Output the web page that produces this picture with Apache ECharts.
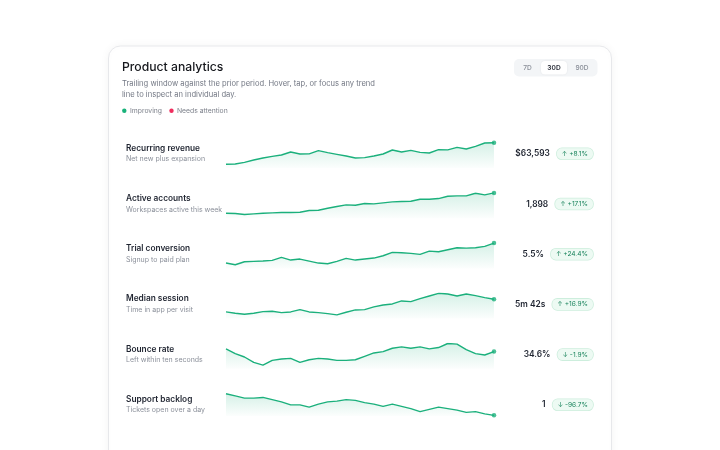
<!DOCTYPE html>
<html>
<head>
<meta charset="utf-8">
<title>Product analytics</title>
<script src="https://cdn.jsdelivr.net/npm/echarts@6/dist/echarts.min.js"></script>
<style>
  html, body { margin: 0; padding: 0; background: #ffffff; }
  #chart { width: 720px; height: 450px; }
</style>
</head>
<body>
<div id="chart"></div>
<script>
// 30 day trailing window
const days = ['Jun 1', 'Jun 2', 'Jun 3', 'Jun 4', 'Jun 5', 'Jun 6', 'Jun 7', 'Jun 8', 'Jun 9', 'Jun 10',
  'Jun 11', 'Jun 12', 'Jun 13', 'Jun 14', 'Jun 15', 'Jun 16', 'Jun 17', 'Jun 18', 'Jun 19', 'Jun 20',
  'Jun 21', 'Jun 22', 'Jun 23', 'Jun 24', 'Jun 25', 'Jun 26', 'Jun 27', 'Jun 28', 'Jun 29', 'Jun 30'];

const revenue = [57100, 57200, 57700, 58400, 59000, 59500, 59900, 60800, 60200, 60250,
  61200, 60600, 60100, 59600, 59000, 59100, 59600, 60200, 61400, 60800,
  61300, 60700, 60500, 61500, 61450, 62200, 61700, 62500, 63500, 63593];
const accounts = [1654, 1650, 1638, 1646, 1654, 1658, 1662, 1663, 1666, 1686,
  1690, 1714, 1734, 1754, 1750, 1770, 1766, 1778, 1790, 1794,
  1798, 1822, 1822, 1830, 1858, 1862, 1862, 1894, 1874, 1898];
const trial = [4.30, 4.20, 4.38, 4.40, 4.42, 4.46, 4.64, 4.48, 4.54, 4.42,
  4.30, 4.26, 4.40, 4.58, 4.48, 4.54, 4.60, 4.74, 4.94, 4.92,
  4.88, 4.82, 5.02, 4.98, 5.10, 5.22, 5.20, 5.22, 5.30, 5.50];
const session = [304, 300, 297, 300, 305, 306, 302, 304, 311, 304,
  302, 299, 295, 303, 310, 311, 319, 325, 328, 337,
  335, 344, 352, 360, 358, 352, 358, 353, 347, 342];
const bounce = [35.0, 34.3, 33.8, 33.0, 32.6, 33.3, 33.5, 33.6, 33.0, 33.4,
  33.6, 33.5, 33.3, 33.3, 33.4, 33.9, 34.4, 34.6, 35.1, 35.3,
  35.1, 35.3, 35.0, 35.2, 35.8, 35.7, 34.9, 34.3, 34.1, 34.6];
const backlog = [30, 27, 24, 24, 25, 22, 19, 15, 15, 12,
  16, 19, 20, 22, 21, 18, 16, 13, 16, 13,
  10, 6, 9, 12, 10, 8, 5, 6, 3, 1];

const metricNames = ['Recurring revenue', 'Active accounts', 'Trial conversion', 'Median session', 'Bounce rate', 'Support backlog'];
const metricNotes = ['Net new plus expansion', 'Workspaces active this week', 'Signup to paid plan', 'Time in app per visit', 'Left within ten seconds', 'Tickets open over a day'];
const metricValues = ['$63,593', '1,898', '5.5%', '5m 42s', '34.6%', '1'];
const metricChanges = ['+8.1%', '+17.1%', '+24.4%', '+16.9%', '-1.9%', '-96.7%'];
const series = [revenue, accounts, trial, session, bounce, backlog];
const ranges = ['7D', '30D', '90D'];

const font = 'Inter, "Noto Sans", sans-serif';
const green = '#1bb07c';
const rowStep = 50.2;

let oChart = echarts.init(document.getElementById('chart'));

let grids = [], xAxes = [], yAxes = [], lines = [], texts = [];
for (let i = 0; i < series.length; i++) {
  let data = series[i];
  grids.push({ left: 226, width: 268, top: 142.7 + rowStep * i, height: 25.3 });
  xAxes.push({ type: 'category', gridIndex: i, data: days, boundaryGap: false, show: false });
  yAxes.push({
    type: 'value', gridIndex: i, show: false,
    min: v => v.min - (v.max - v.min) * 0.17,
    max: 'dataMax'
  });
  lines.push({
    type: 'line', xAxisIndex: i, yAxisIndex: i, data: data,
    symbol: 'none', silent: true,
    lineStyle: { color: green, width: 1.4 },
    areaStyle: {
      color: new echarts.graphic.LinearGradient(0, 0, 0, 1, [
        { offset: 0, color: 'rgba(27,176,124,0.26)' },
        { offset: 1, color: 'rgba(27,176,124,0.02)' }
      ])
    }
  });
  lines.push({
    type: 'scatter', xAxisIndex: i, yAxisIndex: i, silent: true,
    data: [[days.length - 1, data[data.length - 1]]],
    symbolSize: 4.5, itemStyle: { color: green }
  });

  let cy = 153.8 + rowStep * i;
  let down = metricChanges[i].charAt(0) === '-';
  texts.push({
    type: 'text', style: {
      x: 126, y: cy - 5.5, text: metricNames[i], fill: '#1f2430',
      font: '600 8.3px ' + font, verticalAlign: 'middle'
    }
  });
  texts.push({
    type: 'text', style: {
      x: 126, y: cy + 5.5, text: metricNotes[i], fill: '#8b909a',
      font: '400 7px ' + font, verticalAlign: 'middle'
    }
  });
  texts.push({
    type: 'text', style: {
      x: 593, y: cy, align: 'right', verticalAlign: 'middle',
      text: '{v|' + metricValues[i] + '}{gap|}{b|' + (down ? '\u2193 ' : '\u2191 ') + metricChanges[i] + '}',
      rich: {
        v: { fontSize: 8.4, fontWeight: 600, fontFamily: font, fill: '#1f2430' },
        gap: { width: 7 },
        b: {
          fontSize: 6.6, fontFamily: font, fill: '#17825a',
          backgroundColor: '#edfaf3', borderColor: '#cdeedd', borderWidth: 0.8,
          borderRadius: 5, padding: [2, 5, 2, 5]
        }
      }
    }
  });
}

let graphics = [
  {
    type: 'rect', z: -10,
    shape: { x: 108.5, y: 46, width: 503, height: 440, r: 12 },
    style: { fill: '#ffffff', stroke: '#e7e8eb', lineWidth: 1, shadowBlur: 10, shadowColor: 'rgba(17,24,39,0.05)' }
  },
  {
    type: 'text', style: {
      x: 122, y: 67, text: 'Product analytics', fill: '#15171c',
      font: '500 12.2px ' + font, verticalAlign: 'middle'
    }
  },
  {
    type: 'text', style: {
      x: 122, y: 83.5, text: 'Trailing window against the prior period. Hover, tap, or focus any trend',
      fill: '#737884', font: '400 7.6px ' + font, verticalAlign: 'middle'
    }
  },
  {
    type: 'text', style: {
      x: 122, y: 94.5, text: 'line to inspect an individual day.',
      fill: '#737884', font: '400 7.6px ' + font, verticalAlign: 'middle'
    }
  },
  { type: 'circle', shape: { cx: 124.3, cy: 110.8, r: 2.2 }, style: { fill: '#19b27a' } },
  {
    type: 'text', style: {
      x: 130, y: 110.8, text: 'Improving', fill: '#7d818b',
      font: '400 6.8px ' + font, verticalAlign: 'middle'
    }
  },
  { type: 'circle', shape: { cx: 171.5, cy: 110.8, r: 2.2 }, style: { fill: '#ef2e5e' } },
  {
    type: 'text', style: {
      x: 177, y: 110.8, text: 'Needs attention', fill: '#7d818b',
      font: '400 6.8px ' + font, verticalAlign: 'middle'
    }
  },
  // range switch
  {
    type: 'rect', shape: { x: 514, y: 59, width: 83.5, height: 17.5, r: 5 },
    style: { fill: '#f3f5f7' }
  },
  {
    type: 'rect', shape: { x: 541, y: 61, width: 26, height: 13.5, r: 4 },
    style: { fill: '#ffffff', shadowBlur: 2, shadowColor: 'rgba(0,0,0,0.08)' }
  }
];
let rangeX = [527.5, 554, 582];
for (let i = 0; i < ranges.length; i++) {
  graphics.push({
    type: 'text', style: {
      x: rangeX[i], y: 67.8, text: ranges[i], align: 'center', verticalAlign: 'middle',
      fill: i === 1 ? '#1f2430' : '#878c96',
      font: (i === 1 ? '600 ' : '500 ') + '6.6px ' + font
    }
  });
}

let option = {
  animation: false,
  grid: grids,
  xAxis: xAxes,
  yAxis: yAxes,
  series: lines,
  graphic: { elements: graphics.concat(texts) }
};
oChart.setOption(option);
</script>
</body>
</html>
